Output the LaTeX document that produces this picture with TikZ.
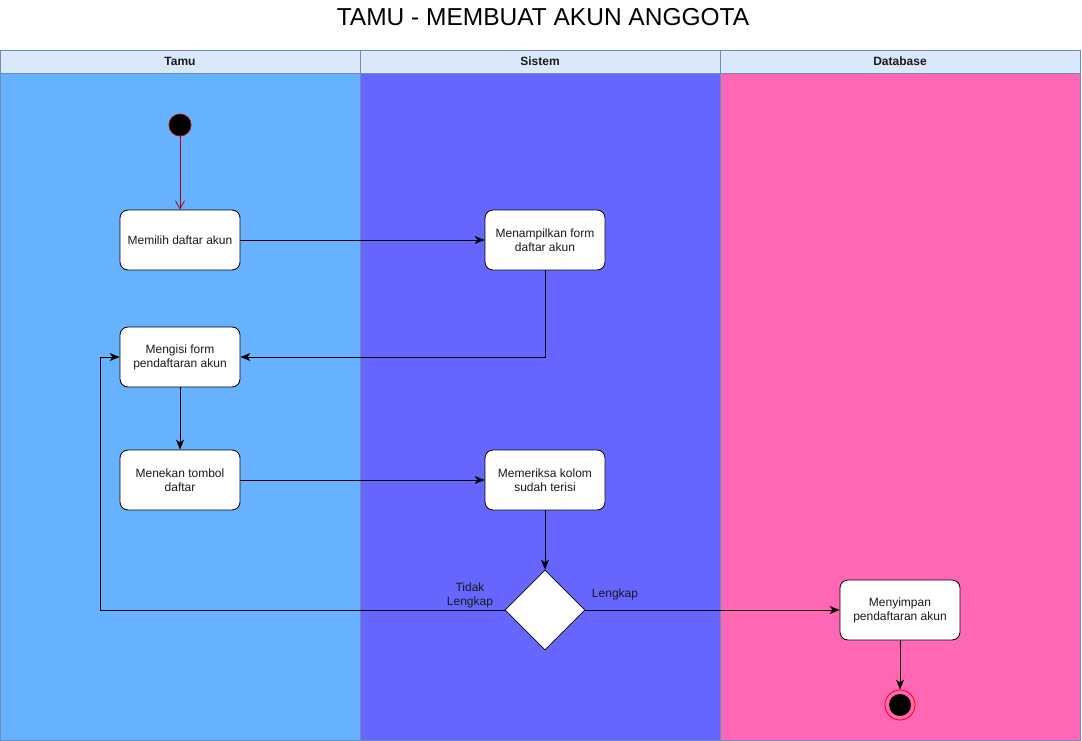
\documentclass[tikz,border=0pt]{standalone}
\usepackage{fontspec}
\setmainfont{Liberation Sans}
\usetikzlibrary{arrows.meta,shapes.geometric}
\definecolor{laneA}{HTML}{66B2FF}
\definecolor{laneB}{HTML}{6666FF}
\definecolor{laneC}{HTML}{FF66B3}
\definecolor{headfill}{HTML}{DAE8FC}
\definecolor{headline}{HTML}{6C8EBF}
\definecolor{startred}{HTML}{B20000}
\definecolor{endred}{HTML}{FF0000}
\definecolor{txt}{HTML}{1A1A1A}
\begin{document}
\begin{tikzpicture}[x=1pt,y=-1pt,
  lanehead/.style={draw=headline,fill=headfill,line width=0.8pt},
  headtext/.style={font=\fontsize{12}{14}\selectfont\bfseries,text=txt},
  act/.style={draw=black,fill=white,rounded corners=8pt,minimum width=120pt,minimum height=60pt,
    align=center,font=\fontsize{12}{14}\selectfont,text=txt,inner sep=2pt,line width=0.8pt},
  decision/.style={draw=black,fill=white,diamond,minimum width=80pt,minimum height=80pt,inner sep=0pt,line width=0.8pt},
  flow/.style={draw=black,line width=0.8pt,-{Stealth[length=10pt,width=8pt,inset=3pt]}},
  lbl/.style={font=\fontsize{12}{14}\selectfont,text=txt,align=center}]
\useasboundingbox (0,0) rectangle (1082,741);
\fill[white] (0,0) rectangle (1082,741);
% title
\node[font=\fontsize{24.5}{28}\selectfont,text=black] (title) at (543,17) {TAMU - MEMBUAT AKUN ANGGOTA};
% swimlanes
\fill[laneA] (0,73) rectangle (360,740);
\fill[laneB] (360,73) rectangle (720,740);
\fill[laneC] (720,73) rectangle (1080,740);
\draw[white,line width=1pt] (360.5,73) -- (360.5,740);
\draw[headline,line width=0.8pt] (0,50) rectangle (360,740);
\draw[headline,line width=0.8pt] (720,50) rectangle (1080,740);
\draw[headline,line width=0.8pt] (0,740) -- (1080,740);
\draw[lanehead] (0,50) rectangle (360,73);
\node[headtext] (hA) at (180,61.5) {Tamu};
\draw[lanehead] (360,50) rectangle (720,73);
\node[headtext] (hB) at (540,61.5) {Sistem};
\draw[lanehead] (720,50) rectangle (1080,73);
\node[headtext] (hC) at (900,61.5) {Database};
% nodes
\node[circle,fill=black,draw=startred,line width=0.8pt,minimum size=22pt,inner sep=0pt] (start) at (180,125) {};
\node[act] (pilih) at (180,240) {Memilih daftar akun};
\node[act] (tampil) at (545,240) {Menampilkan form\\daftar akun};
\node[act] (isi) at (180,357) {Mengisi form\\pendaftaran akun};
\node[act] (tekan) at (180,480) {Menekan tombol\\daftar};
\node[act] (periksa) at (545,480) {Memeriksa kolom\\sudah terisi};
\node[decision] (cek) at (545,610) {};
\node[act] (simpan) at (900,610) {Menyimpan\\pendaftaran akun};
\node[circle,draw=endred,fill=none,line width=0.8pt,minimum size=30pt,inner sep=0pt] (finish) at (900,705) {};
\node[circle,fill=black,minimum size=22pt,inner sep=0pt] (finishdot) at (900,705) {};
% connectors
\draw[draw=startred,line width=0.8pt,-{Straight Barb[length=8pt,width=9pt]}] (start) -- (pilih);
\draw[flow] (pilih) -- (tampil);
\draw[flow] (tampil.south) |- (isi.east);
\draw[flow] (isi) -- (tekan);
\draw[flow] (tekan) -- (periksa);
\draw[flow] (periksa) -- (cek);
\coordinate (loopB) at (100,610);
\coordinate (loopT) at (100,357);
\draw[flow] (cek.west) -- (loopB) -- (loopT) -- (isi.west);
\draw[flow] (cek.east) -- (simpan.west);
\draw[flow] (simpan) -- (finish);
% branch labels
\node[lbl] (tidak) at (470,595) {Tidak\\Lengkap};
\node[lbl] (lengkap) at (615,594) {Lengkap};
\end{tikzpicture}
\end{document}
